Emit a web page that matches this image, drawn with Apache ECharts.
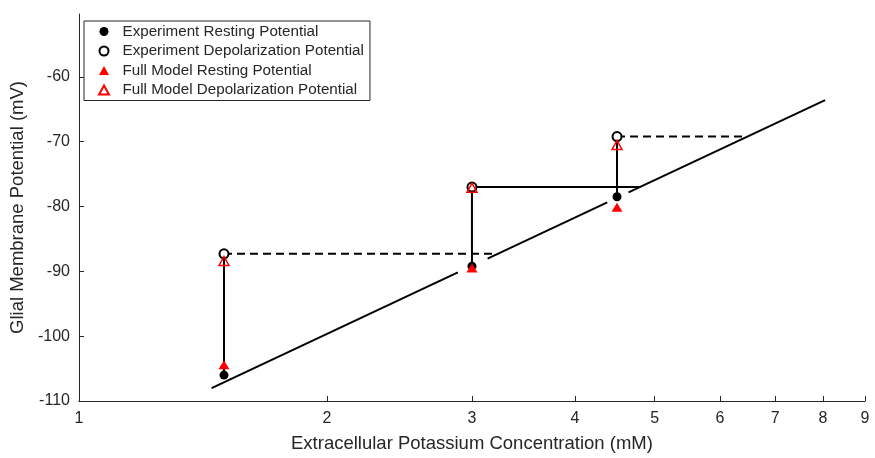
<!DOCTYPE html>
<html>
<head>
<meta charset="utf-8">
<script src="https://cdn.jsdelivr.net/npm/echarts@6/dist/echarts.min.js"></script>
<style>
  html, body { margin: 0; padding: 0; background: #fff; }
  #chart { width: 875px; height: 458px; }
</style>
</head>
<body>
<div id="chart"></div>
<script>
// Extracellular K+ concentrations (mM)
const concentrations = [1.5, 3, 4.5];

// Measured glial membrane potentials (mV)
const expResting = [-106.0, -89.2, -78.5];
const expDepolarization = [-87.3, -77.0, -69.2];

// Full model predictions (mV)
const modelResting = [-104.4, -89.5, -80.1];
const modelDepolarization = [-88.4, -77.1, -70.5];

// Concentration at which the fitted line reaches each depolarization level
const equivalentConcentration = [3.22, 4.8, 6.4];
const equivalentDashed = [true, false, true];

// Fitted line, drawn in three pieces: [K start, V start, K end, V end]
const fitSegments = [
  [1.449, -108.0, 2.884, -90.15],
  [3.134, -88.03, 4.379, -79.36],
  [4.647, -77.82, 8.05, -63.6]
];

const xTicks = [1, 2, 3, 4, 5, 6, 7, 8, 9];
const yTicks = [-110, -100, -90, -80, -70, -60];

const FONT = 'Liberation Sans, Arial, Helvetica, sans-serif';
const INK = '#262626';

const zip = (xs, ys) => xs.map((x, i) => [x, ys[i]]);

const lineSeries = [];
// fitted line
fitSegments.forEach(s => {
  lineSeries.push({
    type: 'line', silent: true, symbol: 'none', z: 1,
    lineStyle: { color: '#000', width: 2 },
    data: [[s[0], s[1]], [s[2], s[3]]]
  });
});
// resting -> depolarization connectors and the level lines
concentrations.forEach((k, i) => {
  lineSeries.push({
    type: 'line', silent: true, symbol: 'none', z: 2,
    lineStyle: { color: '#000', width: 2 },
    data: [[k, expResting[i]], [k, expDepolarization[i]]]
  });
  lineSeries.push({
    type: 'line', silent: true, symbol: 'none', z: 2,
    lineStyle: { color: '#000', width: 2, type: equivalentDashed[i] ? [8, 5] : 'solid' },
    data: [[k, expDepolarization[i]], [equivalentConcentration[i], expDepolarization[i]]]
  });
});

const chart = echarts.init(document.getElementById('chart'), null, { renderer: 'canvas' });
chart.setOption({
  animation: false,
  backgroundColor: '#fff',
  textStyle: { fontFamily: FONT },
  grid: { left: 77, right: 10, top: 14, bottom: 50, containLabel: false },
  legend: {
    data: [
      'Experiment Resting Potential',
      'Experiment Depolarization Potential',
      'Full Model Resting Potential',
      'Full Model Depolarization Potential'
    ],
    orient: 'vertical',
    left: 84, top: 21,
    padding: [3, 6, 3, 14],
    itemGap: 4.5,
    itemWidth: 10,
    itemHeight: 9,
    borderColor: INK, borderWidth: 1,
    backgroundColor: '#fff',
    textStyle: { fontFamily: FONT, fontSize: 15.2, color: INK, lineHeight: 15, padding: [0, 0, 0, 8.5] },
    z: 10
  },
  xAxis: {
    type: 'log', logBase: 10, min: 1, max: 9,
    name: 'Extracellular Potassium Concentration (mM)',
    nameLocation: 'middle', nameGap: 33,
    nameTextStyle: { fontFamily: FONT, fontSize: 18.5, color: INK },
    axisLine: { lineStyle: { color: INK, width: 1 } },
    axisTick: { inside: true, length: 5, lineStyle: { color: INK }, customValues: xTicks },
    axisLabel: { fontFamily: FONT, fontSize: 16, color: INK, margin: 10, customValues: xTicks },
    splitLine: { show: false }
  },
  yAxis: {
    type: 'value', min: -110, max: -50.3, interval: 10,
    name: 'Glial Membrane Potential (mV)',
    nameLocation: 'middle', nameGap: 43,
    nameTextStyle: { fontFamily: FONT, fontSize: 18.5, color: INK },
    axisLine: { show: true, lineStyle: { color: INK, width: 1 } },
    axisTick: { inside: true, length: 5, lineStyle: { color: INK }, customValues: yTicks },
    axisLabel: { fontFamily: FONT, fontSize: 16, color: INK, margin: 9, customValues: yTicks },
    splitLine: { show: false }
  },
  series: lineSeries.concat([
    {
      name: 'Experiment Resting Potential', type: 'scatter', z: 5,
      symbol: 'circle', symbolSize: 9,
      itemStyle: { color: '#000', opacity: 1 },
      data: zip(concentrations, expResting)
    },
    {
      name: 'Experiment Depolarization Potential', type: 'scatter', z: 5,
      symbol: 'circle', symbolSize: 9,
      itemStyle: { color: '#fff', borderColor: '#000', borderWidth: 2, opacity: 1 },
      data: zip(concentrations, expDepolarization)
    },
    {
      name: 'Full Model Resting Potential', type: 'scatter', z: 6,
      symbol: 'triangle', symbolSize: [11, 9],
      itemStyle: { color: '#ff0000', opacity: 1 },
      data: zip(concentrations, modelResting)
    },
    {
      name: 'Full Model Depolarization Potential', type: 'scatter', z: 6,
      symbol: 'triangle', symbolSize: [10, 9],
      itemStyle: { color: 'rgba(255,255,255,0)', borderColor: '#ff0000', borderWidth: 1.5, opacity: 1 },
      data: zip(concentrations, modelDepolarization)
    }
  ])
});
</script>
</body>
</html>
